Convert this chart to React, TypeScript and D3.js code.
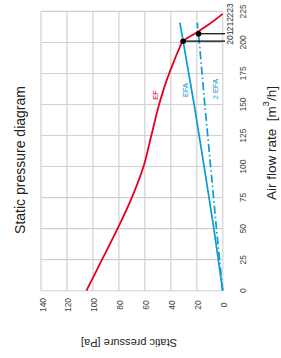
import React from 'react';
import * as d3 from 'd3';

// chart is drawn rotated: air flow runs bottom -> top, pressure runs right -> left
const flowTicks = [0, 25, 50, 75, 100, 125, 150, 175, 200, 225];
const pressureTicks = [0, 20, 40, 60, 80, 100, 120, 140];

const efFlow = [0, 25, 50, 75, 100, 125, 150, 170, 185, 195, 201, 208, 215, 223];
const efPressure = [105, 93, 81, 70, 61, 55, 49, 43, 37.5, 33.5, 30.5, 20, 10, 0];

const efaFlow = [0, 50, 100, 150, 201, 216];
const efaPressure = [0, 6.8, 14.3, 22, 30.5, 33];

const efa2Flow = [0, 50, 100, 150, 207, 216];
const efa2Pressure = [0, 4.8, 9.3, 13.8, 18.6, 19.7];

const markerFlow = [201, 207];
const markerPressure = [30.5, 18.6];
const markLabels = [201, 212, 223];

const RED = '#e3001b';
const BLUE = '#0a9ad9';
const FONT = '"Liberation Sans", Arial, Helvetica, sans-serif';

export default function App() {
  const W = 281;
  const H = 358;
  const left = 41;
  const right = 222.7;
  const top = 11.4;
  const bottom = 290.7;

  const x = d3.scaleLinear().domain([0, 140]).range([right, left]);
  const y = d3.scaleLinear().domain([0, 225]).range([bottom, top]);

  const line = d3
    .line<[number, number]>()
    .x((d) => x(d[1]))
    .y((d) => y(d[0]))
    .curve(d3.curveMonotoneY);
  const straight = d3
    .line<[number, number]>()
    .x((d) => x(d[1]))
    .y((d) => y(d[0]));

  const ef = d3.zip(efFlow, efPressure) as [number, number][];
  const efa = d3.zip(efaFlow, efaPressure) as [number, number][];
  const efa2 = d3.zip(efa2Flow, efa2Pressure) as [number, number][];

  const rot = (tx: number, ty: number, a = -90) => `rotate(${a},${tx},${ty})`;

  return (
    <svg width={W} height={H} style={{ position: 'absolute', left: 0, top: 0 }} fontFamily={FONT}>
      <rect width={W} height={H} fill="#fff" />
      {/* grid */}
      {pressureTicks.map((t) => (
        <line key={'v' + t} x1={x(t)} x2={x(t)} y1={top} y2={bottom} stroke="#dcdcdc" strokeWidth={1.6} />
      ))}
      {flowTicks.map((t) => (
        <line key={'h' + t} x1={left} x2={right} y1={y(t)} y2={y(t)} stroke="#d0d0d0" strokeWidth={1.1} />
      ))}

      {/* curves */}
      <path d={line(ef) || ''} fill="none" stroke={RED} strokeWidth={1.8} />
      <path d={straight(efa) || ''} fill="none" stroke={BLUE} strokeWidth={1.7} />
      <path d={straight(efa2) || ''} fill="none" stroke={BLUE} strokeWidth={1.7} strokeDasharray="8,3,1.5,3" />

      {/* markers and leaders */}
      {markerFlow.map((f, i) => (
        <g key={'m' + i}>
          <line x1={x(markerPressure[i])} x2={225} y1={y(f)} y2={y(f)} stroke="#000" strokeWidth={1.2} />
          <circle cx={x(markerPressure[i])} cy={y(f)} r={2.8} fill="#000" />
        </g>
      ))}
      {markLabels.map((v) => (
        <text key={'ml' + v} x={230} y={y(v) - 3.5} transform={rot(230, y(v) - 3.5)} fontSize={8.5} fill="#333"
          textAnchor="middle" dominantBaseline="central">{v}</text>
      ))}

      {/* series labels */}
      <text x={155} y={95} transform={rot(155, 95)} fontSize={7.5} fill={RED} textAnchor="middle" dominantBaseline="central">EF</text>
      <text x={185} y={90} transform={rot(185, 90)} fontSize={7.5} fill={BLUE} textAnchor="middle" dominantBaseline="central">EFA</text>
      <text x={215} y={89} transform={rot(215, 89)} fontSize={7.5} fill={BLUE} textAnchor="middle" dominantBaseline="central">2 EFA</text>

      {/* tick labels */}
      {flowTicks.map((t) => (
        <text key={'ft' + t} x={243} y={y(t)} transform={rot(243, y(t))} fontSize={8.5} fill="#444"
          textAnchor="middle" dominantBaseline="central">{t}</text>
      ))}
      {pressureTicks.map((t) => (
        <text key={'pt' + t} x={x(t) + 1.5} y={305} transform={rot(x(t) + 1.5, 305)} fontSize={8.5} fill="#444"
          textAnchor="middle" dominantBaseline="central">{t}</text>
      ))}

      {/* titles */}
      <text x={20} y={160} transform={rot(20, 160)} fontSize={14} fill="#222" textAnchor="middle" dominantBaseline="central">
        Static pressure diagram
      </text>
      <text x={271} y={143} transform={rot(271, 143)} fontSize={13.5} fill="#222" textAnchor="middle" dominantBaseline="central">
        {'Air flow rate\u00a0\u00a0[m'}<tspan baselineShift="super" fontSize={9}>3</tspan>/h]
      </text>
      <text x={129} y={343} transform={rot(129, 343, 180)} fontSize={11} fill="#222" textAnchor="middle" dominantBaseline="central">
        Static pressure [Pa]
      </text>
    </svg>
  );
}
